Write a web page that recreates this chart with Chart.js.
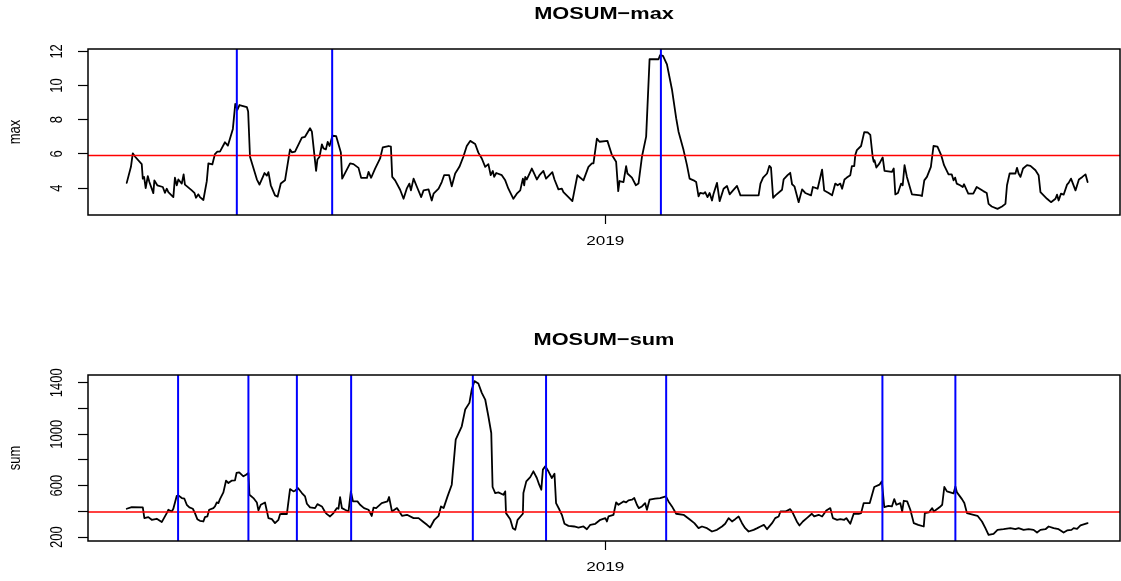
<!DOCTYPE html>
<html><head><meta charset="utf-8">
<script src="https://cdn.jsdelivr.net/npm/chart.js@4.4.0/dist/chart.umd.min.js"></script>
<style>html,body{margin:0;padding:0;background:#fff;overflow:hidden}
#c1{position:absolute;left:0;top:0}#c2{position:absolute;left:0;top:290px}</style>
</head><body>
<canvas id="c1" width="1121" height="290"></canvas>
<canvas id="c2" width="1121" height="291"></canvas>
<script>
// ---- data (day index from series start) ----
const maxDays=[0,1.6,2.3,3.2,5.7,6.1,6.6,7.2,8.0,8.6,10.1,10.5,11.6,13.7,14.5,15.2,15.8,17.7,18.3,19.0,19.6,20.9,21.6,22.1,24.7,25.7,26.3,27.2,27.8,29.1,30.4,31.0,32.5,33.5,34.4,35.4,37.3,38.4,40.3,41.2,42.0,42.8,45.6,46.1,46.8,49.4,50.4,51.9,52.3,53.2,53.8,54.7,56.3,57.3,58.5,60.1,62.0,62.7,63.9,66.5,67.7,69.6,70.3,71.9,72.4,73.2,74.1,74.7,75.6,76.3,77.0,78.1,79.5,81.3,81.8,84.8,86.1,88.0,89.0,91.2,91.8,92.8,94.3,96.2,97.2,99.4,100.3,100.8,101.9,103.8,105.1,106.3,107.3,107.9,108.9,110.2,111.8,112.7,114.6,115.8,116.5,118.4,119.6,120.5,122.4,123.4,124.7,126.3,127.8,129.1,130.4,132.3,133.5,134.8,136.1,137.3,138.2,139.0,139.5,140.3,142.4,143.7,144.9,146.8,148.1,149.4,150.4,150.9,151.3,151.9,153.8,154.4,155.7,156.7,158.2,159.2,161.6,162.4,163.9,165.2,165.8,167.7,169.2,171.1,173.4,175.3,176.6,177.2,178.5,179.5,182.5,184.2,185.8,186.6,187.1,188.6,189.6,190.1,191.8,193.3,194.3,195.6,197.2,198.5,201.9,202.5,203.6,205.1,207.0,208.6,209.5,211.4,212.7,213.7,215.2,216.2,217.1,217.7,219.0,219.6,220.5,221.3,222.2,222.8,224.1,225.1,226.6,227.9,228.9,230.2,231.7,233.0,239.9,240.6,241.6,243.1,244.0,244.6,245.4,246.3,248.8,249.4,250.9,251.9,252.6,253.5,255.1,256.4,257.6,259.8,260.5,262.3,264.0,264.8,266.5,267.8,269.0,269.9,270.9,271.6,272.5,273.4,274.7,275.3,276.2,276.6,277.2,278.8,280.0,281.4,282.3,283.2,283.6,283.9,284.6,285.8,287.0,287.7,290.5,291.2,291.8,292.8,294.0,294.6,295.3,296.2,298.1,301.3,301.9,302.8,303.8,305.3,306.3,307.8,309.2,310.3,312.0,313.2,313.9,314.5,315.1,316.4,317.4,317.9,319.5,321.4,322.7,325.2,326.5,327.2,328.4,330.6,332.3,333.6,334.2,335.2,337.4,338.0,338.6,339.3,340.3,341.8,343.1,345.0,346.2,346.9,349.4,350.9,352.6,353.2,353.8,354.7,355.7,357.0,357.6,358.5,360.2,361.5,362.8,364.0,364.8];
const maxVals=[4.3,5.24,6.03,5.83,5.4,4.55,4.65,4.0,4.7,4.35,3.7,4.45,4.16,4.06,3.72,3.96,3.76,3.47,4.6,4.16,4.5,4.26,4.8,4.2,3.86,3.72,3.43,3.63,3.47,3.3,4.4,5.44,5.38,5.99,6.13,6.13,6.68,6.48,7.46,8.92,8.58,8.86,8.74,8.48,5.83,4.51,4.2,4.73,4.88,4.73,4.93,4.16,3.57,3.5,4.26,4.45,6.26,6.09,6.13,6.95,7.0,7.5,7.3,5.0,5.67,5.83,6.56,6.32,6.26,6.7,6.46,7.06,7.04,6.08,4.55,5.44,5.4,5.18,4.6,4.59,4.94,4.6,5.14,5.73,6.38,6.46,6.42,4.65,4.45,3.9,3.37,3.96,4.26,3.86,4.55,4.06,3.47,3.86,3.92,3.27,3.67,3.96,4.35,4.75,4.75,4.1,4.85,5.24,5.83,6.46,6.76,6.58,6.07,5.73,5.24,5.4,4.75,5.0,4.65,4.88,4.75,4.45,3.96,3.37,3.67,3.86,4.55,4.16,4.65,4.5,5.14,4.94,4.5,4.75,5.0,4.55,4.93,4.5,3.92,3.96,3.76,3.47,3.23,4.75,4.45,5.24,5.44,5.44,6.89,6.71,6.76,5.93,5.54,3.82,4.41,4.35,5.28,4.85,4.61,4.16,4.26,5.83,7.01,11.54,11.54,11.78,11.74,11.24,9.77,8.09,7.3,6.22,5.34,4.55,4.45,4.35,3.51,3.71,3.67,3.76,3.47,3.71,3.27,3.67,4.3,3.23,3.96,4.12,3.63,3.86,4.12,3.57,3.57,4.26,4.61,4.85,5.3,5.2,3.43,3.57,3.9,4.5,4.75,4.89,4.22,4.1,3.17,3.92,3.71,3.57,4.06,3.96,5.08,3.86,3.71,3.57,4.26,4.16,4.26,3.96,4.5,4.61,4.75,5.28,5.28,5.93,6.22,6.46,7.27,7.25,7.11,5.83,5.54,5.63,5.2,5.44,5.79,5.0,4.94,5.14,3.63,3.71,4.26,4.16,5.34,4.65,3.63,3.57,3.53,4.45,4.65,5.24,6.46,6.42,5.93,5.34,4.8,4.8,4.45,4.61,4.26,4.16,4.06,4.22,3.67,3.67,4.06,3.82,3.71,3.07,2.92,2.78,2.92,3.07,4.16,4.85,4.85,5.18,4.85,4.65,5.14,5.34,5.3,5.04,4.75,3.76,3.37,3.17,3.37,3.61,3.27,3.67,3.61,4.2,4.3,4.55,3.86,4.5,4.65,4.8,4.35];
const sumDays=[0,1.9,6.1,6.7,8.2,9.5,11.4,13.3,15.2,15.8,17.1,17.7,19.0,19.6,20.9,21.9,22.8,23.8,25.1,25.9,26.8,27.8,29.1,29.7,30.6,31.3,32.9,33.5,34.2,34.8,35.4,36.7,37.7,38.6,39.8,41.1,41.7,42.7,44.3,45.3,46.2,46.6,48.1,49.4,50.0,50.9,52.5,53.8,55.1,56.3,57.6,58.2,59.5,60.8,62.0,63.3,63.9,65.0,66.5,67.7,68.4,69.6,71.5,72.4,74.1,75.4,76.0,77.2,78.5,79.8,80.4,81.0,81.7,82.9,84.2,85.1,85.9,87.6,88.6,90.1,91.8,93.0,93.7,94.7,96.8,99.0,99.6,100.7,102.6,104.5,106.4,108.9,110.8,112.4,114.0,115.2,116.8,118.4,119.3,120.3,121.8,123.4,124.9,127.2,128.5,130.1,131.0,132.0,133.5,134.8,136.1,137.3,138.4,138.9,139.9,141.1,143.0,143.7,144.0,145.6,146.6,147.5,148.4,150.4,150.6,151.7,153.2,154.4,155.7,156.6,157.4,158.0,158.9,160.1,161.4,162.4,163.0,164.3,165.2,166.2,167.7,169.9,171.5,173.4,174.7,176.0,177.9,179.8,181.7,182.3,182.9,184.8,185.8,186.7,188.6,189.6,190.5,191.8,192.7,193.7,194.4,195.6,196.8,197.5,198.5,200.6,202.5,204.7,205.7,207.0,208.6,211.4,213.9,215.5,217.1,218.4,220.3,222.2,224.1,226.0,227.2,228.5,229.8,231.0,232.3,233.6,234.8,236.1,238.0,239.4,240.6,241.9,243.1,245.0,246.2,247.5,248.2,250.1,251.9,252.9,254.4,255.4,256.7,258.2,260.1,261.0,262.7,264.0,265.6,267.1,268.1,269.7,270.9,272.4,273.2,274.7,276.0,277.9,278.8,279.8,282.1,283.8,285.8,286.7,287.6,289.2,290.5,291.4,292.2,293.7,294.4,295.0,296.3,297.5,298.8,300.5,302.6,303.0,304.5,305.8,306.4,308.7,309.6,310.4,311.4,313.9,314.6,315.2,317.1,318.0,319.0,321.5,323.0,324.7,326.0,327.2,329.1,330.6,332.9,335.5,337.4,338.6,340.5,342.4,344.3,345.6,346.9,348.8,350.0,351.9,353.8,355.7,357.0,358.7,359.5,360.8,362.1,363.3,364.8];
const sumVals=[421,434,431,348,356,335,343,317,387,413,400,421,522,525,504,499,452,431,421,387,340,327,322,356,361,413,426,439,470,465,496,548,639,621,639,642,699,704,673,686,699,530,504,470,408,452,470,348,340,309,335,379,382,379,574,556,561,582,543,517,460,431,426,457,439,392,379,361,387,426,421,512,426,413,400,556,478,478,452,426,413,365,430,426,465,478,512,400,426,366,374,348,348,322,296,275,335,366,439,426,517,608,958,1062,1192,1244,1348,1413,1395,1322,1270,1140,1010,590,543,548,530,556,387,340,270,257,335,382,543,634,667,712,660,608,569,725,751,712,660,693,465,413,374,304,288,283,275,283,262,296,304,335,348,322,361,374,470,452,478,470,486,491,504,452,426,439,465,413,491,499,504,517,478,439,382,374,335,309,270,283,270,244,257,283,304,348,322,340,361,309,270,244,257,270,283,296,262,309,348,361,400,400,418,387,322,291,322,348,382,361,374,361,408,426,348,335,340,335,348,304,382,382,387,465,465,590,608,634,434,444,439,496,452,465,400,483,478,413,309,296,283,387,392,426,400,434,452,590,556,540,595,548,496,465,387,374,366,322,270,218,226,257,262,270,262,270,257,262,257,236,257,262,283,270,262,236,252,257,270,265,291,299,309];
const maxChangePoints=[41.8,78.0,202.8];
const sumChangePoints=[19.5,46.2,64.6,85.2,131.4,159.2,204.8,286.9,314.6];
const maxThreshold=5.9;
const sumThreshold=395;
const timeAxisStart=-14.7;
const timeAxisEnd=377.1;
const yearTickDay=181.7;
const yearTickLabel='2019';
const maxYTicks=[4,6,8,10,12];
const maxYLabels=[4,6,8,10,12];
const sumYTicks=[200,400,600,800,1000,1200,1400];
const sumYLabels=[200,600,1000,1400];

// ---- helpers ----
function padRange(a){const lo=Math.min(...a),hi=Math.max(...a),d=hi-lo;return [lo-0.04*d,hi+0.04*d];}
function sText(ctx,t,x,y,font,sx,rot){ctx.save();ctx.translate(x,y);ctx.scale(sx,1);if(rot)ctx.rotate(-Math.PI/2);
  ctx.font=font;ctx.fillStyle='#000';ctx.textAlign='center';ctx.textBaseline='middle';ctx.fillText(t,0,0);ctx.restore();}

function makeChart(id,o){
  const xmin=timeAxisStart,xmax=timeAxisEnd;
  const [ymin,ymax]=padRange(o.vals);
  const datasets=[];
  o.cps.forEach(c=>datasets.push({data:[{x:c,y:ymin},{x:c,y:ymax}],borderColor:'#0000ff',borderWidth:2,pointRadius:0,order:0}));
  datasets.push({data:[{x:xmin,y:o.thr},{x:xmax,y:o.thr}],borderColor:'#ff0000',borderWidth:1.5,pointRadius:0,order:1});
  datasets.push({data:o.days.map((d,i)=>({x:d,y:o.vals[i]})),borderColor:'#000',borderWidth:1.8,pointRadius:0,order:2,borderJoinStyle:'round',borderCapStyle:'round'});
  const deco={id:'deco',afterDraw(ch){
    const ctx=ch.ctx,a=ch.chartArea,xs=ch.scales.x,ys=ch.scales.y;
    ctx.save();ctx.strokeStyle='#000';ctx.lineWidth=1.5;ctx.strokeRect(a.left,a.top,a.right-a.left,a.bottom-a.top);ctx.restore();
    sText(ctx,o.title,(a.left+a.right)/2,a.top-35,'bold 17px "Liberation Sans", Arial, sans-serif',1.28,false);
    sText(ctx,o.ylab,15.5,(a.top+a.bottom)/2,'13px "Liberation Sans", Arial, sans-serif',1.32,true);
    o.yLabels.forEach(v=>sText(ctx,String(v),57,ys.getPixelForValue(v),'13px "Liberation Sans", Arial, sans-serif',1.32,true));
    sText(ctx,yearTickLabel,xs.getPixelForValue(yearTickDay),a.bottom+26.5,'13px "Liberation Sans", Arial, sans-serif',1.32,false);
  }};
  return new Chart(document.getElementById(id),{
    type:'line',
    data:{datasets},
    options:{responsive:false,animation:false,events:[],
      layout:{padding:{left:0,right:1,top:o.topPad,bottom:0}},
      elements:{line:{tension:0}},
      plugins:{legend:{display:false},tooltip:{enabled:false},title:{display:false}},
      scales:{
        x:{type:'linear',min:xmin,max:xmax,
          afterBuildTicks:s=>{s.ticks=[{value:yearTickDay}];},
          afterFit:s=>{s.height=o.xH;},
          ticks:{display:false},border:{display:false},
          grid:{display:true,drawOnChartArea:false,drawTicks:true,tickLength:9,tickColor:'#000',tickWidth:1.2}},
        y:{type:'linear',min:ymin,max:ymax,
          afterBuildTicks:s=>{s.ticks=o.yTicks.map(v=>({value:v}));},
          afterFit:s=>{s.width=88;},
          ticks:{display:false},border:{display:false},
          grid:{display:true,drawOnChartArea:false,drawTicks:true,tickLength:10,tickColor:'#000',tickWidth:1.2}}
      }},
    plugins:[deco]
  });
}
makeChart('c1',{title:'MOSUM\u2212max',ylab:'max',days:maxDays,vals:maxVals,cps:maxChangePoints,thr:maxThreshold,yTicks:maxYTicks,yLabels:maxYLabels,topPad:49,xH:75});
makeChart('c2',{title:'MOSUM\u2212sum',ylab:'sum',days:sumDays,vals:sumVals,cps:sumChangePoints,thr:sumThreshold,yTicks:sumYTicks,yLabels:sumYLabels,topPad:85,xH:40});
</script>
</body></html>
